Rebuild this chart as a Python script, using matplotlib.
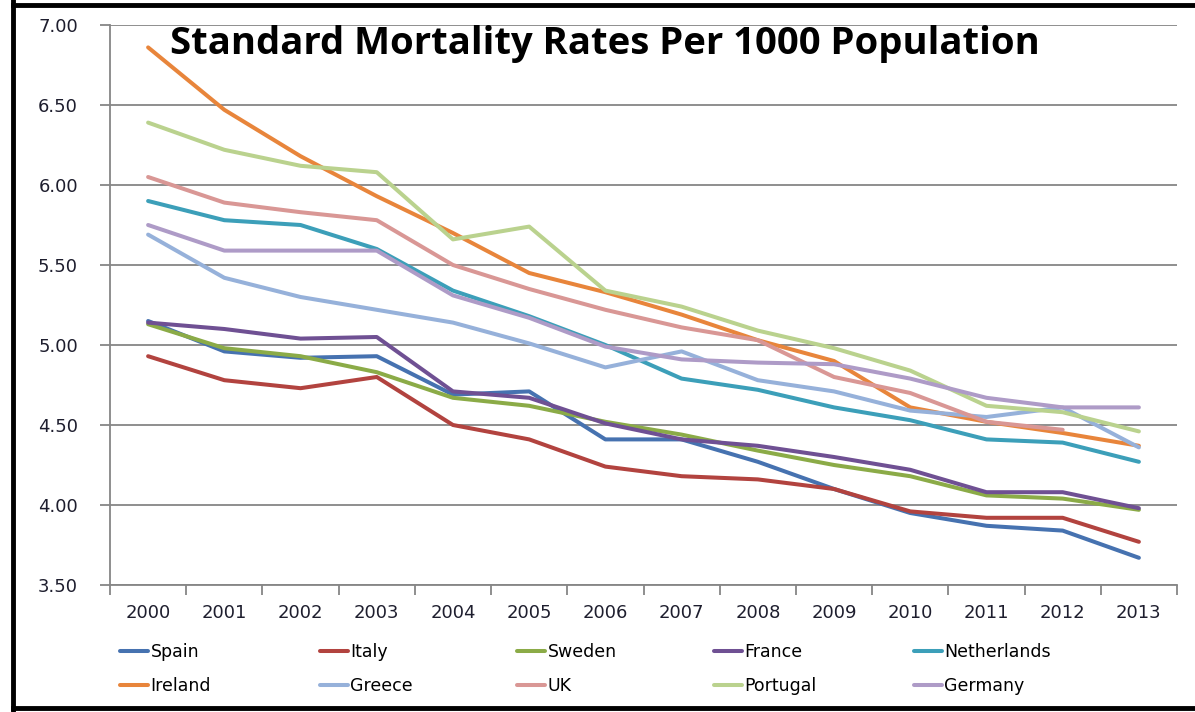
import matplotlib.pyplot as plt
from matplotlib.lines import Line2D
from matplotlib.ticker import FixedLocator

years = [str(y) for y in range(2000, 2014)]

spain = [5.15, 4.96, 4.92, 4.93, 4.69, 4.71, 4.41, 4.41, 4.27, 4.10, 3.95, 3.87, 3.84, 3.67]
italy = [4.93, 4.78, 4.73, 4.80, 4.50, 4.41, 4.24, 4.18, 4.16, 4.10, 3.96, 3.92, 3.92, 3.77]
sweden = [5.13, 4.98, 4.93, 4.83, 4.67, 4.62, 4.52, 4.44, 4.34, 4.25, 4.18, 4.06, 4.04, 3.97]
france = [5.14, 5.10, 5.04, 5.05, 4.71, 4.67, 4.51, 4.41, 4.37, 4.30, 4.22, 4.08, 4.08, 3.98]
netherlands = [5.90, 5.78, 5.75, 5.60, 5.34, 5.18, 5.00, 4.79, 4.72, 4.61, 4.53, 4.41, 4.39, 4.27]
ireland = [6.86, 6.47, 6.18, 5.93, 5.70, 5.45, 5.33, 5.19, 5.03, 4.90, 4.61, 4.52, 4.45, 4.37]
greece = [5.69, 5.42, 5.30, 5.22, 5.14, 5.01, 4.86, 4.96, 4.78, 4.71, 4.59, 4.55, 4.61, 4.36]
uk = [6.05, 5.89, 5.83, 5.78, 5.50, 5.35, 5.22, 5.11, 5.03, 4.80, 4.70, 4.52, 4.47]
portugal = [6.39, 6.22, 6.12, 6.08, 5.66, 5.74, 5.34, 5.24, 5.09, 4.98, 4.84, 4.62, 4.58, 4.46]
germany = [5.75, 5.59, 5.59, 5.59, 5.31, 5.17, 4.99, 4.91, 4.89, 4.88, 4.79, 4.67, 4.61, 4.61]

series = [
    ("Spain", spain, "#4672B0"),
    ("Italy", italy, "#B2433F"),
    ("Sweden", sweden, "#8BAB47"),
    ("France", france, "#6F5093"),
    ("Netherlands", netherlands, "#3C9FB9"),
    ("Ireland", ireland, "#E8853B"),
    ("Greece", greece, "#96B1DA"),
    ("UK", uk, "#D99795"),
    ("Portugal", portugal, "#BAD28E"),
    ("Germany", germany, "#AE9BC7"),
]

fig = plt.figure(figsize=(11.95, 7.12), dpi=100)
ax = fig.add_axes([110 / 1195, 1 - 585 / 712, (1177 - 110) / 1195, (585 - 25) / 712])

lines = {}
for name, vals, col in series:
    ln, = ax.plot(range(len(vals)), vals, color=col, lw=2.9, label=name,
                  solid_joinstyle="round", solid_capstyle="round")
    lines[name] = ln

ax.set_xlim(-0.5, 13.5)
ax.set_ylim(3.5, 7.0)
ax.set_xticks(range(len(years)))
ax.set_xticklabels(years)
ax.xaxis.set_minor_locator(FixedLocator([i - 0.5 for i in range(15)]))
ax.tick_params(axis="x", which="major", length=0, pad=14, labelsize=13, labelcolor="#1e1e2e")
ax.tick_params(axis="x", which="minor", length=7, width=1.3, color="#868686", direction="out")
ax.set_yticks([3.5 + 0.5 * i for i in range(8)])
ax.set_yticklabels(["%.2f" % (3.5 + 0.5 * i) for i in range(8)])
ax.tick_params(axis="y", length=7, width=1.3, color="#868686", pad=16, labelsize=13,
               labelcolor="#1e1e2e")
ax.grid(axis="y", color="#868686", lw=1.3)
ax.set_axisbelow(True)
for s in ["top", "right"]:
    ax.spines[s].set_visible(False)
for s in ["left", "bottom"]:
    ax.spines[s].set_color("#868686")
    ax.spines[s].set_linewidth(1.3)

fig.text(170 / 1195, 1 - 44 / 712, "Standard Mortality Rates Per 1000 Population",
         fontsize=27.5, fontweight="bold", family="Open Sans", ha="left", va="center")

# legend: 5 columns x 2 rows, Excel ordering
col_x = [120, 320, 517, 714, 914]
names = [s[0] for s in series]
for c in range(5):
    pair = [names[c], names[c + 5]]
    fig.legend([lines[n] for n in pair], pair, loc="upper left",
               bbox_to_anchor=(col_x[c] / 1195, 1 - 643 / 712),
               frameon=False, fontsize=12.5, handlelength=1.6, handletextpad=0.15,
               labelspacing=0.9, borderpad=0, borderaxespad=0)

# sheet border
fig.add_artist(Line2D([13 / 1195, 13 / 1195], [0, 1], color="black", lw=3.5))
fig.add_artist(Line2D([13 / 1195, 1], [1 - 5 / 712, 1 - 5 / 712], color="black", lw=3.5))
fig.add_artist(Line2D([13 / 1195, 1], [1 - 708 / 712, 1 - 708 / 712], color="black", lw=3.5))

fig.savefig("out.png", dpi=100)
